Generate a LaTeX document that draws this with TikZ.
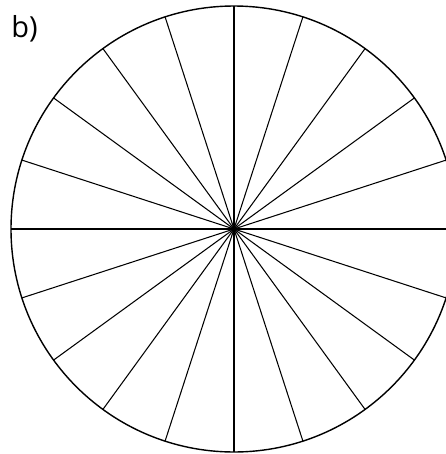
\documentclass[tikz,border=0pt]{standalone}
\usepackage{fontspec}
\setmainfont{Open Sans}
\usepackage{xcolor}
\definecolor{wheelblack}{RGB}{0,0,0}
\usepackage{tikz}
\usetikzlibrary{calc}

\begin{document}
\begin{tikzpicture}

% --- Frame of the picture ---
\useasboundingbox (-4.68,-4.50) rectangle (4.24,4.58);
\clip (-4.68,-4.50) rectangle (4.24,4.58);
\fill[white] (-4.68,-4.50) rectangle (4.24,4.58);

% --- Label ---
\node[font=\fontsize{16.5}{18}\selectfont, anchor=base west, inner sep=0pt]
      (label-b) at (-4.46,3.84) {b)};

% --- Wheel: circle cut into 20 equal parts ---
\coordinate (hub) at (0,0);
\draw[wheelblack, line width=0.8pt] (hub) circle (4.46);

% Spokes
\foreach \angle in {0,18,...,342} {
    \draw[wheelblack, line width=0.6pt] (hub) -- ($(hub)+(\angle:4.46)$);
}

% Hub point
\fill[wheelblack] (hub) circle (0.05);

\end{tikzpicture}
\end{document}
